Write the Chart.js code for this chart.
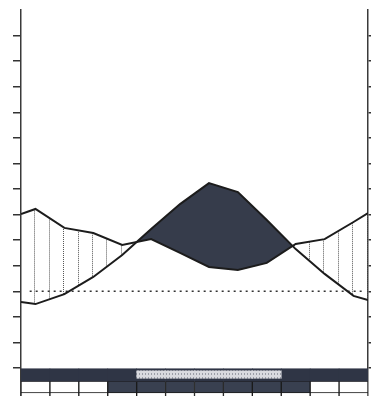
<!DOCTYPE html>
<html><head><meta charset="utf-8">
<script src="https://cdn.jsdelivr.net/npm/chart.js@4.4.1/dist/chart.umd.min.js"></script>
<style>html,body{margin:0;padding:0;background:#fff}#wrap{width:371px;height:396px}</style>
</head><body><div id="wrap"><canvas id="c" width="371" height="396"></canvas></div>
<script>
// ---- data ----
const months = ['Jan','Feb','Mar','Apr','May','Jun','Jul','Aug','Sep','Oct','Nov','Dec'];
const curveX = [0,0.5,1.5,2.5,3.5,4.5,5.5,6.5,7.5,8.5,9.5,10.5,11.5,12];
const precipitation = [6.02,6.22,5.48,5.28,4.81,5.04,4.50,3.95,3.83,4.11,4.85,5.04,5.71,6.06];
const temperature   = [2.58,2.50,2.89,3.56,4.42,5.44,6.41,7.23,6.88,5.79,4.65,3.68,2.82,2.66];
const referenceLevel = 3;
const referenceSpan = [0.3, 11.8];
const yTickValues = [0,1,2,3,4,5,6,7,8,9,10,11,12,13];
const stripUpper = [0,0,0,0,1,1,1,1,1,0,0,0];
const stripLower = [0,0,0,1,1,1,1,1,1,1,0,0];

// ---- layout / style ----
const Y_MIN = -1.095, Y_MAX = 14;
const ROW1 = [-0.508, 0], ROW1_INSET = [-0.403, -0.106];
const ROW2 = [-0.978, -0.508], ROW3 = [-1.095, -0.978];
const DARK = '#363c4b', STRIP_DARK = '#2f3545', CELL_DARK = '#394050';
const HATCH_START = 0.455, HATCH_STEP = 0.5;

function stripPattern(){
  const c = document.createElement('canvas'); c.width = 3; c.height = 4;
  const g = c.getContext('2d');
  g.fillStyle = '#d8d9de'; g.fillRect(0,0,3,4);
  g.fillStyle = '#9a9da6';
  g.fillRect(1,1,1,2);
  return g.createPattern(c,'repeat');
}
function interp(xs, ys, x){
  for (let i = 0; i < xs.length - 1; i++) {
    if (x >= xs[i] && x <= xs[i+1]) { const t = (x - xs[i]) / (xs[i+1] - xs[i]); return ys[i] + t * (ys[i+1] - ys[i]); }
  }
  return null;
}
const hatchPlugin = {
  id: 'hatch',
  beforeDatasetsDraw(chart){
    const {ctx, scales:{x, y}} = chart;
    ctx.save(); ctx.strokeStyle = '#555'; ctx.lineWidth = 1; ctx.setLineDash([1,1]);
    for (let m = HATCH_START; m < 12; m += HATCH_STEP) {
      const p = interp(curveX, precipitation, m), t = interp(curveX, temperature, m);
      if (p == null || t == null || p <= t) continue;
      const px = Math.round(x.getPixelForValue(m)) + 0.5;
      ctx.beginPath(); ctx.moveTo(px, y.getPixelForValue(p)); ctx.lineTo(px, y.getPixelForValue(t)); ctx.stroke();
    }
    ctx.restore();
  }
};
const mid = i => i + 0.5;
const barBase = {type:'bar', grouped:false, barPercentage:1, categoryPercentage:1, borderSkipped:false};

const datasets = [
  {label:'Precipitation', data: curveX.map((x,i)=>({x, y: precipitation[i]})), borderColor:'#1c1c1c', borderWidth:2,
   pointRadius:0, tension:0, fill:{target:1, above:'rgba(0,0,0,0)', below:DARK}},
  {label:'Temperature', data: curveX.map((x,i)=>({x, y: temperature[i]})), borderColor:'#1c1c1c', borderWidth:2,
   pointRadius:0, tension:0, fill:false},
  {label:'Reference', data: referenceSpan.map(x=>({x, y: referenceLevel})), borderColor:'#333', borderWidth:1.5,
   borderDash:[2,4], pointRadius:0, fill:false},
  Object.assign({}, barBase, {label:'upperInset', data: months.map((_,i)=>stripUpper[i]?{x:mid(i), y:ROW1_INSET}:null).filter(Boolean),
   backgroundColor: stripPattern(), borderWidth:0}),
  Object.assign({}, barBase, {label:'upper', data: months.map((_,i)=>({x:mid(i), y:ROW1})), backgroundColor:STRIP_DARK, borderWidth:0}),
  Object.assign({}, barBase, {label:'lower', data: months.map((_,i)=>({x:mid(i), y:ROW2})),
   backgroundColor: stripLower.map(s=>s?CELL_DARK:'#ffffff'), borderColor:'#1a1a1a', borderWidth:1}),
  Object.assign({}, barBase, {label:'dividers', data: months.map((_,i)=>({x:mid(i), y:ROW3})),
   backgroundColor:'#ffffff', borderColor:'#1a1a1a', borderWidth:{left:1,right:1,top:0,bottom:0}})
];

const axisCommon = {
  type:'linear', min:Y_MIN, max:Y_MAX,
  afterBuildTicks: s => { s.ticks = yTickValues.map(v => ({value:v})); },
  ticks:{display:false},
  border:{display:true, color:'#3a3a3a', width:1.5}
};

new Chart(document.getElementById('c'), {
  type:'line',
  data:{datasets},
  options:{
    responsive:false, animation:false, devicePixelRatio:1,
    layout:{padding:{left:13, right:0, top:10, bottom:0}},
    plugins:{legend:{display:false}, tooltip:{enabled:false}, filler:{drawTime:'beforeDatasetsDraw'}},
    scales:{
      x:{type:'linear', min:0, max:12, offset:false, display:false},
      y: Object.assign({}, axisCommon, {position:'left', grid:{drawOnChartArea:false, drawTicks:true, tickLength:8, color:'#333', lineWidth:1.5}}),
      y2: Object.assign({}, axisCommon, {position:'right', grid:{drawOnChartArea:false, drawTicks:true, tickLength:3, color:'#333', lineWidth:1.5}})
    }
  },
  plugins:[hatchPlugin]
});
</script></body></html>
